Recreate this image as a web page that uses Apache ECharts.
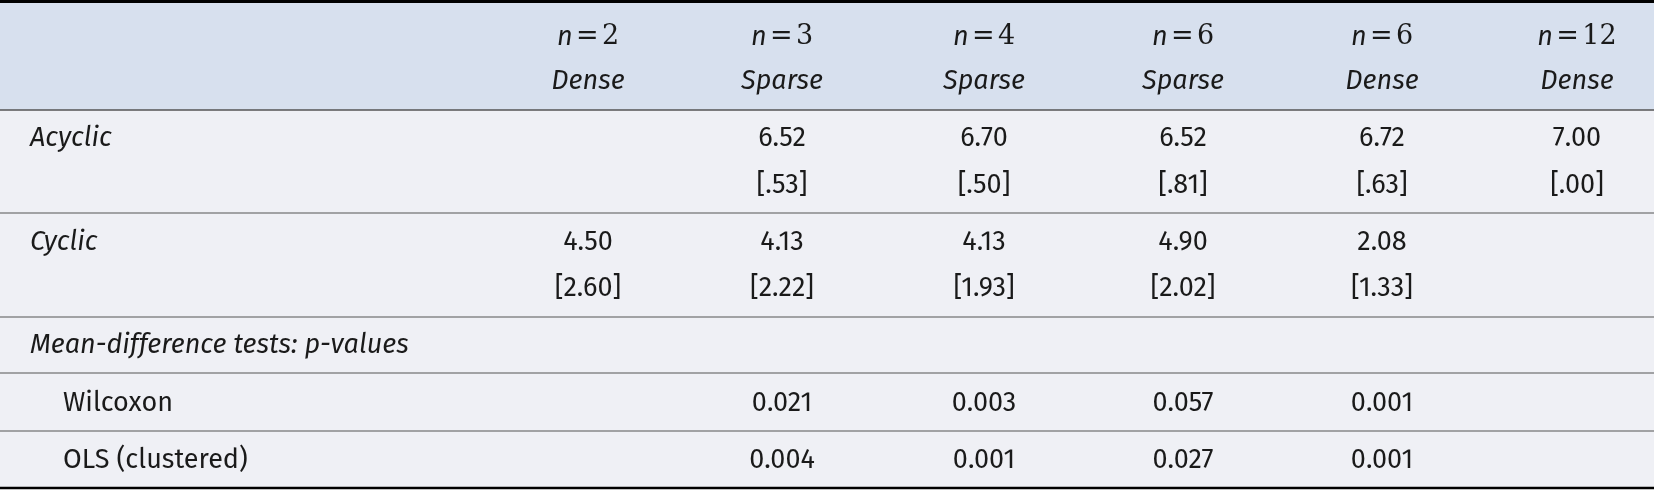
<!DOCTYPE html>
<html><head><meta charset="utf-8">
<script src="https://cdn.jsdelivr.net/npm/echarts@6/dist/echarts.min.js"></script>
<style>html,body{margin:0;padding:0;background:#fff}#c{width:1654px;height:491px}</style>
</head><body><div id="c"></div>
<script>
const headerN = ['2','3','4','6','6','12'];
const headerDensity = ['Dense','Sparse','Sparse','Sparse','Dense','Dense'];
const acyclicMean = ['', '6.52','6.70','6.52','6.72','7.00'];
const acyclicSD = ['', '[.53]','[.50]','[.81]','[.63]','[.00]'];
const cyclicMean = ['4.50','4.13','4.13','4.90','2.08',''];
const cyclicSD = ['[2.60]','[2.22]','[1.93]','[2.02]','[1.33]',''];
const wilcoxon = ['', '0.021','0.003','0.057','0.001',''];
const ols = ['', '0.004','0.001','0.027','0.001',''];
const rowLabels = ['Acyclic','Cyclic','Mean-difference tests: p-values','Wilcoxon','OLS (clustered)'];

const W=1654, colX=[588,782,984,1183,1382,1577];
const F='"Fira Sans","Open Sans","Noto Sans",sans-serif', FS=27, C='#1a1a1a';
const g=[];
function rect(y0,y1,fill){g.push({type:'rect',shape:{x:0,y:y0,width:W,height:y1-y0},style:{fill}});}
function line(y,w,col){g.push({type:'line',shape:{x1:0,y1:y,x2:W,y2:y},style:{stroke:col,lineWidth:w}});}
function txt(s,x,y,align,italic){ if(!s)return; g.push({type:'text',x,y,style:{text:s,font:(italic?'italic ':'')+FS+'px '+F,fill:C,align,verticalAlign:'middle'}});}
rect(2,110,'#d7e0ee'); rect(110,488,'#eff0f5');
line(1.5,3,'#000'); line(110,1.5,'#555'); line(213,1.2,'#555'); line(317,1.2,'#555'); line(373,1.2,'#555'); line(431,1.2,'#555'); line(488,2.5,'#000');
headerN.forEach((s,i)=>g.push({type:'text',x:colX[i],y:37,style:{text:'{i|n} {r|=} {r|'+s+'}',align:'center',verticalAlign:'middle',
  rich:{i:{font:'italic '+FS+'px '+F,fill:C},r:{font:FS+'px "DejaVu Serif",serif',fill:C}}}}));
headerDensity.forEach((s,i)=>txt(s,colX[i],81,'center',true));
txt(rowLabels[0],30,138,'left',true); txt(rowLabels[1],30,242,'left',true); txt(rowLabels[2],30,345,'left',true);
txt(rowLabels[3],63,403,'left',false); txt(rowLabels[4],63,460,'left',false);
acyclicMean.forEach((s,i)=>txt(s,colX[i],138,'center'));
acyclicSD.forEach((s,i)=>txt(s,colX[i],185,'center'));
cyclicMean.forEach((s,i)=>txt(s,colX[i],242,'center'));
cyclicSD.forEach((s,i)=>txt(s,colX[i],288,'center'));
wilcoxon.forEach((s,i)=>txt(s,colX[i],403,'center'));
ols.forEach((s,i)=>txt(s,colX[i],460,'center'));
const chart=echarts.init(document.getElementById('c'));
chart.setOption({animation:false,graphic:{elements:g}});
</script></body></html>
